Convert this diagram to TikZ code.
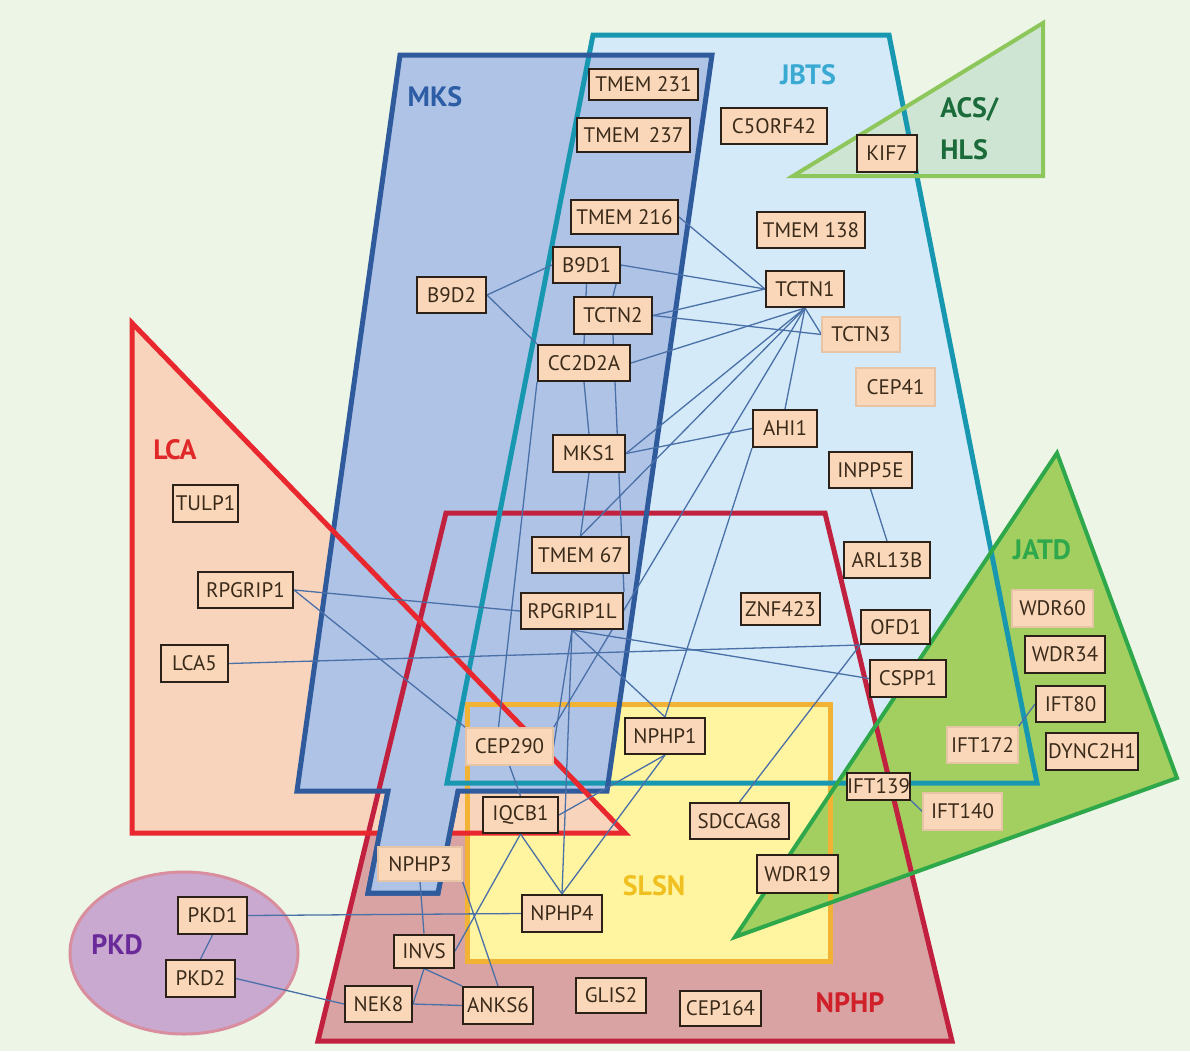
\documentclass[tikz,border=0pt]{standalone}
\usepackage{fontspec}
\setmainfont{PT Sans}
\usetikzlibrary{calc}
\pgfdeclarelayer{back}
\pgfdeclarelayer{edges}
\pgfsetlayers{back,edges,main}
\definecolor{bgc}{HTML}{EDF5E7}
\definecolor{mksfill}{HTML}{AFC3E6}
\definecolor{mksline}{HTML}{2F5A9C}
\definecolor{jbtsfill}{HTML}{D4EAF8}
\definecolor{jbtsline}{HTML}{1898B0}
\definecolor{acsfill}{HTML}{CFE5D3}
\definecolor{acsline}{HTML}{8DC65A}
\definecolor{lcafill}{HTML}{F9D4BD}
\definecolor{lcaline}{HTML}{E8282E}
\definecolor{nphpfill}{HTML}{D9A3A3}
\definecolor{nphpline}{HTML}{C1203E}
\definecolor{slsnfill}{HTML}{FFF4A0}
\definecolor{slsnline}{HTML}{F2B233}
\definecolor{jatdfill}{HTML}{A2CF60}
\definecolor{jatdline}{HTML}{2EA84A}
\definecolor{pkdfill}{HTML}{C9A9CF}
\definecolor{pkdline}{HTML}{D88E9E}
\definecolor{boxfill}{HTML}{FAD7B8}
\definecolor{boxline}{HTML}{2B2118}
\definecolor{boxsoft}{HTML}{E6C4A6}
\definecolor{genetext}{HTML}{3A2A1A}
\definecolor{linkc}{HTML}{4A70A8}
\definecolor{tmks}{HTML}{2D5DA5}
\definecolor{tjbts}{HTML}{3BAAD3}
\definecolor{tacs}{HTML}{1C6B3A}
\definecolor{tlca}{HTML}{E02828}
\definecolor{tjatd}{HTML}{2EA84A}
\definecolor{tslsn}{HTML}{F0C020}
\definecolor{tnphp}{HTML}{D0202A}
\definecolor{tpkd}{HTML}{6A2A9A}
\newcommand\genefnt{\fontsize{10.5}{12}\selectfont}
\newcommand\grpfnt{\bfseries\fontsize{14}{16}\selectfont}
\begin{document}
\begin{tikzpicture}[x=0.5pt,y=-0.5pt,
  gene/.style={draw=boxline, line width=1pt, fill=boxfill, inner sep=0pt, text=genetext, font=\genefnt},
  soft/.style={gene, draw=boxsoft, line width=0.6pt},
  sz/.style 2 args={minimum width={#1*0.5pt}, minimum height={#2*0.5pt}},
  link/.style={draw=linkc, line width=0.65pt},
  grp/.style={font=\grpfnt, inner sep=0pt},
  outl/.style={line width=2.5pt, line join=miter}
]
\useasboundingbox (0,0) rectangle (1190,1051);
\begin{pgfonlayer}{back}
\fill[bgc] (0,0) rectangle (1190,1051);

% ---------- fills ----------
\fill[nphpfill] (446,513) -- (825,513) -- (952,1041) -- (318,1041) -- cycle;
\fill[jbtsfill] (593,35) -- (889,35) -- (1037,783) -- (447,783) -- cycle;
\fill[slsnfill] (467,704) rectangle (830,961);
\fill[lcafill] (132,323) -- (132,833) -- (625,833) -- cycle;
\fill[mksfill] (400,55) -- (712,55) -- (607,791) -- (458,791) -- (438,893) -- (368,893) -- (388,791) -- (297,791) -- cycle;
\fill[jatdfill] (1057,453) -- (1177,778) -- (735,937) -- cycle;
\fill[acsfill] (793,176) -- (1043,23) -- (1043,176) -- cycle;
\draw[pkdline, line width=1.5pt, fill=pkdfill] (184,953) ellipse [x radius=114, y radius=81];

% ---------- outlines ----------
\draw[outl, nphpline] (446,513) -- (825,513) -- (952,1041) -- (318,1041) -- cycle;
\draw[outl, slsnline] (467,704) rectangle (830,961);
\draw[outl, jbtsline] (593,35) -- (889,35) -- (1037,783) -- (447,783) -- cycle;
\draw[outl, mksline] (400,55) -- (712,55) -- (607,791) -- (458,791) -- (438,893) -- (368,893) -- (388,791) -- (297,791) -- cycle;
\draw[outl, lcaline] (132,323) -- (132,833) -- (625,833) -- cycle;
% notch of MKS lies over LCA
\fill[mksfill] (389,792.5) -- (457,792.5) -- (438,893) -- (368,893) -- cycle;
\draw[outl, mksline] (388,791) -- (368,893) -- (438,893) -- (458,791);
\draw[line width=2pt, jatdline, line join=miter] (1057,453) -- (1177,778) -- (735,937) -- cycle;
\draw[line width=2pt, acsline, line join=miter] (793,176) -- (1043,23) -- (1043,176) -- cycle;
\end{pgfonlayer}

% ---------- group labels ----------
\node[grp, text=tmks] (lmks) at (435,97) {MKS};
\node[grp, text=tjbts] (ljbts) at (808,75) {JBTS};
\node[grp, text=tacs, anchor=west] (lacs) at (940,109) {ACS/};
\node[grp, text=tacs, anchor=west] (lhls) at (940,150) {HLS};
\node[grp, text=tlca] (llca) at (175,450) {LCA};
\node[grp, text=tjatd] (ljatd) at (1042,550) {JATD};
\node[grp, text=tslsn] (lslsn) at (654,886) {SLSN};
\node[grp, text=tnphp] (lnphp) at (850,1003) {NPHP};
\node[grp, text=tpkd] (lpkd) at (117,945) {PKD};

% ---------- gene nodes ----------
\node[gene, sz={109}{31}] (tmemA) at (643.5,84.5) {TMEM 231};
\node[gene, sz={113}{34}] (tmemB) at (633.5,135) {TMEM\, 237};
\node[gene, sz={106}{36}] (c5orf) at (774,126) {C5ORF42};
\node[gene, sz={60}{37}] (kif7) at (887,153) {KIF7};
\node[gene, sz={107}{34}] (tmemC) at (624.5,217) {TMEM 216};
\node[gene, sz={108}{36}] (tmemD) at (811,230) {TMEM 138};
\node[gene, sz={67}{36}] (b9d1) at (586.5,265) {B9D1};
\node[gene, sz={69}{36}] (b9d2) at (451.5,295) {B9D2};
\node[gene, sz={78}{36}] (tctn1) at (805,289) {TCTN1};
\node[gene, sz={78}{37}] (tctn2) at (613,315.5) {TCTN2};
\node[soft, sz={78}{35}] (tctn3) at (861,334.5) {TCTN3};
\node[gene, sz={92}{36}] (cc2d2a) at (584,363) {CC2D2A};
\node[soft, sz={79}{38}] (cep41) at (895.5,387) {CEP41};
\node[gene, sz={64}{37}] (ahi1) at (785,428.5) {AHI1};
\node[gene, sz={72}{37}] (mks1) at (589,453.5) {MKS1};
\node[gene, sz={83}{36}] (inpp5e) at (870.5,470) {INPP5E};
\node[gene, sz={65}{37}] (tulp1) at (205.5,503.5) {TULP1};
\node[gene, sz={97}{36}] (tmem67) at (580.5,555) {TMEM 67};
\node[gene, sz={86}{36}] (arl13b) at (887,560) {ARL13B};
\node[gene, sz={95}{36}] (rpgrip1) at (245.5,590) {RPGRIP1};
\node[gene, sz={102}{36}] (rpgrip1l) at (572,611) {RPGRIP1L};
\node[gene, sz={79}{32}] (znf423) at (780.5,609) {ZNF423};
\node[gene, sz={69}{34}] (ofd1) at (895.5,627) {OFD1};
\node[soft, sz={81}{37}] (wdr60) at (1052.5,608.5) {WDR60};
\node[gene, sz={67}{37}] (lca5) at (194.5,663.5) {LCA5};
\node[gene, sz={76}{37}] (cspp1) at (908,678.5) {CSPP1};
\node[gene, sz={80}{37}] (wdr34) at (1065,654.5) {WDR34};
\node[gene, sz={69}{36}] (ift80) at (1070.5,704) {IFT80};
\node[soft, sz={87}{37}] (cep290) at (509.5,746.5) {CEP290};
\node[gene, sz={80}{36}] (nphp1) at (665,736) {NPHP1};
\node[soft, sz={71}{36}] (ift172) at (982.5,745) {IFT172};
\node[gene, sz={92}{37}] (dync2h1) at (1092,751.5) {DYNC2H1};
\node[gene, sz={63}{27}] (ift139) at (878.5,786) {IFT139};
\node[soft, sz={79}{37}] (ift140) at (962.5,811.5) {IFT140};
\node[gene, sz={75}{36}] (iqcb1) at (520.5,815) {IQCB1};
\node[gene, sz={99}{36}] (sdccag8) at (739.5,821) {SDCCAG8};
\node[soft, sz={84}{34}] (nphp3) at (420,864) {NPHP3};
\node[gene, sz={81}{38}] (wdr19) at (797.5,874) {WDR19};
\node[gene, sz={69}{37}] (pkd1) at (212.5,915.5) {PKD1};
\node[gene, sz={80}{37}] (nphp4) at (562,913.5) {NPHP4};
\node[gene, sz={69}{37}] (pkd2) at (200.5,978.5) {PKD2};
\node[gene, sz={60}{33}] (invs) at (424,951) {INVS};
\node[gene, sz={67}{36}] (nek8) at (378.5,1004) {NEK8};
\node[gene, sz={70}{37}] (anks6) at (498,1005.5) {ANKS6};
\node[gene, sz={70}{35}] (glis2) at (611,995.5) {GLIS2};
\node[gene, sz={81}{35}] (cep164) at (720.5,1008.5) {CEP164};

% ---------- connectors (on a layer behind the nodes) ----------
\begin{pgfonlayer}{edges}
\draw[link] (b9d2.east) -- (b9d1.west);
\draw[link] (b9d2.east) -- (cc2d2a.north west);
\draw[link] (b9d1.east) -- (tctn1.west);
\draw[link] (b9d1.east) -- (tctn2.north);
\draw[link] (b9d1.south) -- (cc2d2a.north);
\draw[link] (tmemC.east) -- (tctn1.west);
\draw[link] (tctn2.east) -- (tctn1.west);
\draw[link] (tctn2.east) -- (tctn3.west);
\draw[link] (tctn2.south) -- (rpgrip1l.north east);
\draw[link] (cc2d2a.east) -- (tctn1.south);
\draw[link] (tctn1.south) -- (tctn3.west);
\draw[link] (tctn1.south) -- (mks1.east);
\draw[link] (tctn1.south) -- (ahi1.north);
\draw[link] (tctn1.south) -- (tmem67.north);
\draw[link] (tctn1.south) -- (cep290.north east);
\draw[link] (mks1.east) -- (ahi1.west);
\draw[link] (ahi1.south west) -- (nphp1.north);
\draw[link] (cc2d2a.south) -- (mks1.north);
\draw[link] (mks1.south) -- (tmem67.north);
\draw[link] (cc2d2a.south west) -- (cep290.120);
\draw[link] (rpgrip1.east) -- (rpgrip1l.west);
\draw[link] (rpgrip1.east) -- (cep290.north west);
\draw[link] (rpgrip1l.south) -- (cspp1.west);
\draw[link] (rpgrip1l.south) -- (nphp1.north);
\draw[link] (rpgrip1l.south) -- (nphp4.north);
\draw[link] (rpgrip1l.south) -- (cep290.east);
\draw[link] (lca5.east) -- (ofd1.south west);
\draw[link] (ofd1.south west) -- (sdccag8.north);
\draw[link] (inpp5e.south) -- (arl13b.north);
\draw[link] (ift80.west) -- (ift172.north east);
\draw[link] (ift139.south east) -- (ift140.west);
\draw[link] (cep290.south) -- (iqcb1.north);
\draw[link] (iqcb1.east) -- (nphp1.south);
\draw[link] (iqcb1.south) -- (nphp4.north);
\draw[link] (iqcb1.south) -- (invs.east);
\draw[link] (nphp1.south) -- (nphp4.north);
\draw[link] (nphp4.west) -- (pkd1.east);
\draw[link] (pkd1.south) -- (pkd2.north);
\draw[link] (pkd2.east) -- (nek8.west);
\draw[link] (nphp3.south) -- (invs.north);
\draw[link] (nphp3.south east) -- (anks6.north);
\draw[link] (invs.south) -- (nek8.east);
\draw[link] (invs.south) -- (anks6.north west);
\draw[link] (nek8.east) -- (anks6.west);
\end{pgfonlayer}
\end{tikzpicture}
\end{document}
